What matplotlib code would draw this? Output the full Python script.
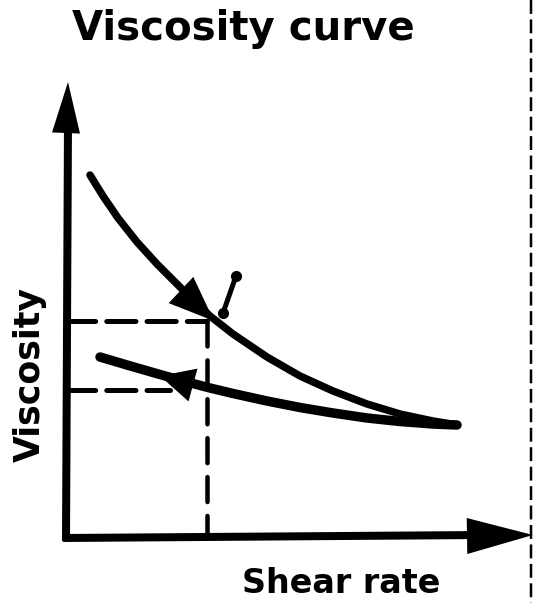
import matplotlib
matplotlib.use("Agg")
from matplotlib import pyplot as plt
from matplotlib.patches import FancyArrow

plt.rcParams['font.family'] = ['DejaVu Sans']
plt.rcParams['lines.scale_dashes'] = False

# everything is in picture pixels (x right, y down)
title = "Viscosity curve"
xlabel = "Shear rate"
ylabel = "Viscosity"

origin = (66, 538)
y_tip = (68, 82)
x_tip = (533, 535)

# curve going up in shear rate
upper_x = [90, 103, 118, 137, 157, 177, 193, 210, 233, 267, 300, 333, 367, 400, 433, 457]
upper_y = [175, 196, 218, 242, 264, 284, 300, 316, 334, 357, 376, 391, 404, 414, 421, 425]
# curve coming back
lower_x = [100, 127, 160, 187, 210, 233, 267, 300, 333, 367, 400, 433, 457]
lower_y = [357, 365, 374.5, 382, 388, 393.5, 401, 407.5, 413, 418, 421.5, 424, 425]

# arrowheads on the curves: base centre -> tip
upper_head = ((181, 290), (214, 321))
lower_head = ((193, 385), (160, 376))

# dashed read-off lines
read_x = 207
read_y_up = 321
read_y_down = 390
read_x_down_end = 170

# little slanted mark next to the upper arrow
mark_x = [223, 236]
mark_y = [313, 276]

border_x = 531

fig = plt.figure(figsize=(5.35, 6.03), dpi=100)
ax = fig.add_axes([0, 0, 1, 1])
ax.set_xlim(0, 535)
ax.set_ylim(603, 0)
ax.axis('off')

k = 0.72  # px -> pt at 100 dpi


def head(base, tip, w):
    dx, dy = tip[0] - base[0], tip[1] - base[1]
    L = (dx * dx + dy * dy) ** 0.5
    ax.add_patch(FancyArrow(base[0], base[1], dx, dy, width=0.1, head_width=w,
                            head_length=L, length_includes_head=True,
                            color='black', lw=0))


# axes with arrows
ax.plot([origin[0], y_tip[0]], [origin[1] + 3, y_tip[1] + 40], color='black', lw=8 * k,
        solid_capstyle='butt')
ax.plot([origin[0] - 3, x_tip[0] - 50], [origin[1], x_tip[1]], color='black', lw=8 * k,
        solid_capstyle='butt')
head((origin[0], 133), y_tip, 28)
head((467, 536), x_tip, 36)

# curves
ax.plot(upper_x, upper_y, color='black', lw=7.5 * k, solid_capstyle='round',
        solid_joinstyle='round')
ax.plot(lower_x, lower_y, color='black', lw=9.5 * k, solid_capstyle='round',
        solid_joinstyle='round')
head(*upper_head, 36)
head(*lower_head, 34)

# dashed helper lines
dash = dict(color='black', lw=5 * k, dashes=(21, 8), dash_capstyle='round')
ax.plot([origin[0], read_x], [read_y_up, read_y_up], **dash)
ax.plot([origin[0], read_x_down_end], [read_y_down, read_y_down], **dash)
ax.plot([read_x, read_x], [read_y_up, origin[1]], color='black', lw=4.5 * k,
        dashes=(18, 10), dash_capstyle='round')

# slanted mark
ax.plot(mark_x, mark_y, color='black', lw=5 * k, marker='o', markersize=7,
        solid_capstyle='round')

# dashed frame edge on the right
ax.plot([border_x, border_x], [0, 603], color='black', lw=2.5 * k, dashes=(10, 4))

# texts
ax.text(243, 40, title, fontsize=29, fontweight='bold', ha='center', va='baseline')
ax.text(341, 593, xlabel, fontsize=24, fontweight='bold', ha='center', va='baseline')
ax.text(30, 375, ylabel, fontsize=25, fontweight='bold', ha='center', va='center',
        rotation=90)

fig.savefig("out.png", dpi=100, facecolor='white')
